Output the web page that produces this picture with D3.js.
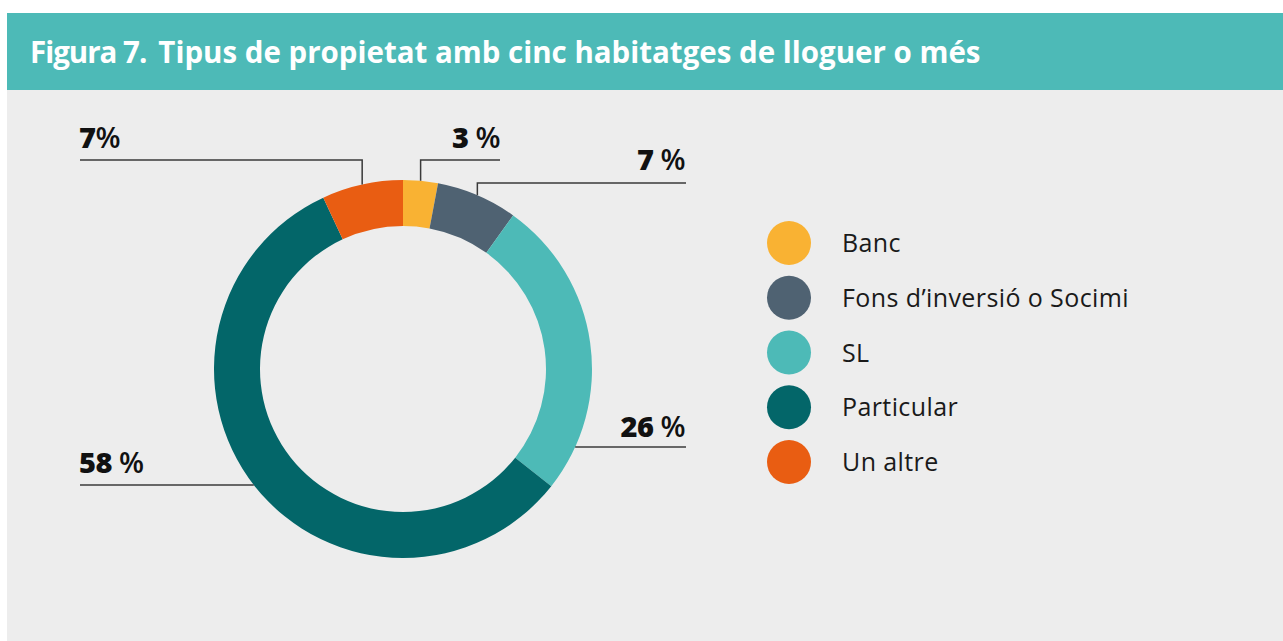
<!DOCTYPE html>
<html>
<head>
<meta charset="utf-8">
<script src="https://cdn.jsdelivr.net/npm/d3@7"></script>
<style>
  body { margin: 0; background: #fff; }
  svg { display: block; }
</style>
</head>
<body>
<script>
var categories = ['Banc', 'Fons d\u2019inversió o Socimi', 'SL', 'Particular', 'Un altre'];
var values = [3, 7, 26, 58, 7];
var labels = ['3 %', '7 %', '26 %', '58 %', '7%'];
var colors = ['#f9b233', '#4f6272', '#4dbab7', '#036669', '#e95d12'];

var fullWidth = 1283;
var fullHeight = 641;

var svg = d3.select('body').append('svg')
  .attr('width', fullWidth)
  .attr('height', fullHeight);

// panel + header
svg.append('rect')
  .attr('x', 7).attr('y', 13)
  .attr('width', fullWidth - 7).attr('height', fullHeight - 13)
  .style('fill', '#ededed');

svg.append('rect')
  .attr('x', 7).attr('y', 13)
  .attr('width', fullWidth - 7).attr('height', 77)
  .style('fill', '#4dbab7');

var title = svg.append('text')
  .attr('x', 30)
  .attr('y', 63)
  .style('fill', '#fff')
  .style('font-family', '"Open Sans", sans-serif')
  .style('font-weight', 700)
  .style('font-size', '27px');
title.append('tspan').style('letter-spacing', '-1px').text('Figura 7.');
title.append('tspan').attr('dx', 12).text('Tipus de propietat amb cinc habitatges de lloguer o més');

// fit the title to the width seen in the reference
var tw = title.node().getComputedTextLength();
title.style('font-size', (27 * 938 / tw) + 'px');

// donut
var cx = 403, cy = 369;
var outerR = 189, innerR = 143;

var pie = d3.pie().sort(null).value(function(d) { return d; });
var arcs = pie(values);

var arc = d3.arc().innerRadius(innerR).outerRadius(outerR);

var donut = svg.append('g')
  .attr('transform', 'translate(' + cx + ',' + cy + ')');

donut.selectAll('path')
  .data(arcs)
  .enter().append('path')
    .attr('d', arc)
    .style('fill', function(d, i) { return colors[i]; });

// leader lines: 'v' = vertical from slice middle then horizontal, 'h' = horizontal at y
var leaders = [
  {type: 'v', lineY: 160, x2: 500, anchor: 'end', tx: 500, ty: 148},
  {type: 'v', lineY: 183, x2: 686, anchor: 'end', tx: 685, ty: 170},
  {type: 'h', lineY: 447, x2: 686, anchor: 'end', tx: 685, ty: 437},
  {type: 'h', lineY: 485, x2: 80, anchor: 'start', tx: 79, ty: 473},
  {type: 'v', lineY: 160, x2: 80, anchor: 'start', tx: 79, ty: 148}
];

var lineG = svg.append('g');
var labelG = svg.append('g');

arcs.forEach(function(d, i) {
  var L = leaders[i];
  var pts;
  if (L.type === 'v') {
    var a = (d.startAngle + d.endAngle) / 2;
    var px = cx + outerR * Math.sin(a);
    var py = cy - outerR * Math.cos(a);
    pts = [[px, py], [px, L.lineY], [L.x2, L.lineY]];
  } else {
    var dy = L.lineY - cy;
    var dx = Math.sqrt(outerR * outerR - dy * dy);
    var px2 = L.x2 > cx ? cx + dx : cx - dx;
    pts = [[px2, L.lineY], [L.x2, L.lineY]];
  }
  lineG.append('path')
    .attr('d', d3.line()(pts))
    .style('fill', 'none')
    .style('stroke', '#3a3a3a')
    .style('stroke-width', 1.5);

  var num = labels[i].replace('%', '');
  var t = labelG.append('text')
    .attr('x', L.tx)
    .attr('y', L.ty)
    .attr('text-anchor', L.anchor)
    .style('font-family', '"Open Sans", sans-serif')
    .style('font-size', '29px')
    .style('letter-spacing', '-0.5px')
    .style('fill', '#111');
  t.append('tspan').style('font-weight', 800).text(num);
  t.append('tspan').style('font-weight', 600).text('%');
});

// legend
var legendY = d3.scalePoint()
  .domain(categories)
  .range([243, 462]);

var legend = svg.append('g').selectAll('g')
  .data(categories)
  .enter().append('g')
    .attr('transform', function(d) { return 'translate(789,' + legendY(d) + ')'; });

legend.append('circle')
  .attr('r', 22)
  .style('fill', function(d, i) { return colors[i]; });

legend.append('text')
  .attr('x', 53)
  .attr('dy', '0.36em')
  .style('font-family', '"Open Sans", sans-serif')
  .style('font-size', '25px')
  .style('letter-spacing', '0.4px')
  .style('fill', '#1a1a1a')
  .text(function(d) { return d; });
</script>
</body>
</html>
